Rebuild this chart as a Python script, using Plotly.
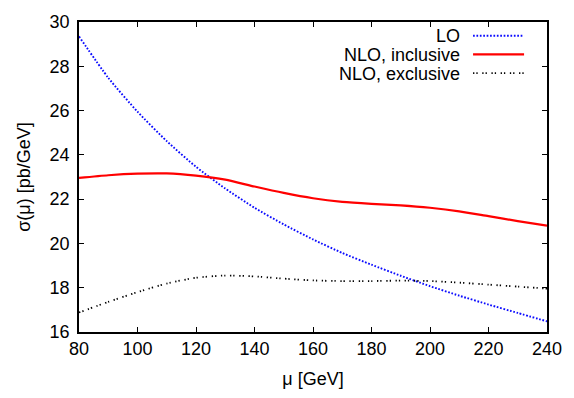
import plotly.graph_objects as go

# Renormalisation scale mu [GeV]
mu = [80, 90, 100, 110, 120, 130, 140, 150, 160, 170, 180, 190, 200, 210, 220, 230, 240]

# sigma(mu) [pb/GeV]
sigma_lo = [29.35, 27.48, 25.95, 24.62, 23.46, 22.48, 21.61, 20.86, 20.18,
            19.57, 19.04, 18.54, 18.07, 17.64, 17.24, 16.86, 16.48]
sigma_nlo_incl = [22.96, 23.08, 23.15, 23.16, 23.06, 22.88, 22.57, 22.28, 22.04,
                  21.88, 21.79, 21.72, 21.61, 21.45, 21.23, 21.01, 20.80]
sigma_nlo_excl = [16.88, 17.36, 17.80, 18.19, 18.45, 18.55, 18.51, 18.41, 18.33,
                  18.30, 18.30, 18.32, 18.30, 18.23, 18.14, 18.05, 17.96]

x_ticks = [80, 100, 120, 140, 160, 180, 200, 220, 240]
y_ticks = [16, 18, 20, 22, 24, 26, 28, 30]

series = [
    ("LO", sigma_lo, dict(color="#0a0aff", width=1.9, dash="1.7px,1.7px")),
    ("NLO, inclusive", sigma_nlo_incl, dict(color="#ff0000", width=2.2)),
    ("NLO, exclusive", sigma_nlo_excl, dict(color="#000000", width=1.8, dash="1.3px,2px,1.3px,4.6px")),
]

FONT = "Liberation Sans, Arial, sans-serif"

fig = go.Figure()
for name, ys, line in series:
    fig.add_trace(go.Scatter(x=mu, y=ys, mode="lines", name=name,
                             line=dict(shape="spline", smoothing=0.6, **line)))

# Key in the upper right: label text right-aligned, line sample to its right
key_rows = [0.9556, 0.8957, 0.8348]
for (name, _, line), yk in zip(series, key_rows):
    fig.add_annotation(x=0.816, y=yk, xref="paper", yref="paper", text=name,
                       xanchor="right", yanchor="middle", showarrow=False,
                       height=19, valign="middle", borderpad=0,
                       font=dict(family=FONT, size=18, color="#000"))
    fig.add_shape(type="line", xref="paper", yref="paper",
                  x0=0.842, x1=0.951, y0=yk, y1=yk, line=line)

axis_common = dict(showgrid=False, zeroline=False, showline=True, linecolor="#000",
                   linewidth=1.5, mirror="ticks", ticks="inside", ticklen=5,
                   tickwidth=1, tickcolor="#000",
                   tickfont=dict(family=FONT, size=18, color="#000"))

fig.update_layout(
    width=574, height=398,
    margin=dict(l=79, r=27, t=15, b=61),
    paper_bgcolor="white", plot_bgcolor="white",
    showlegend=False,
    font=dict(family=FONT, size=18, color="#000"),
    xaxis=dict(range=[80, 240], tickvals=x_ticks,
               title=dict(text="μ [GeV]", standoff=14,
                          font=dict(family=FONT, size=18)),
               **axis_common),
    yaxis=dict(range=[16, 30], tickvals=y_ticks, ticklabelstandoff=4,
               title=dict(text="σ(μ) [pb/GeV]", standoff=14,
                          font=dict(family=FONT, size=18)),
               **axis_common),
)

fig.write_html("out.html")
